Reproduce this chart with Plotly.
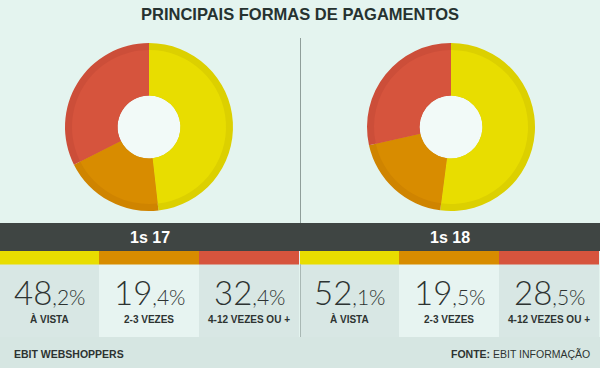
import plotly.graph_objects as go

# ---- data ----
title = "PRINCIPAIS FORMAS DE PAGAMENTOS"
categories = ["À VISTA", "2-3 VEZES", "4-12 VEZES OU +"]
periods = ["1s 17", "1s 18"]
values_1s17 = [48.2, 19.4, 32.4]
values_1s18 = [52.1, 19.5, 28.5]
source_left = "EBIT WEBSHOPPERS"
source_right_label = "FONTE:"
source_right = "EBIT INFORMAÇÃO"

# ---- styles ----
W, H = 600, 368
BG = "#e4f4ef"
colors = ["#e8dd00", "#d88c00", "#d6543d"]
colors_dark = ["#dcd000", "#cf8400", "#cc4e39"]
BAND = "#3f4543"
PANEL = "#d8e7e4"
PANEL_MID = "#e7f4f1"
FOOTER = "#d6e6e2"
TEXT = "#2d3331"
NARROW = "Liberation Sans, Arial, sans-serif"
THIN = "Lato, Roboto, sans-serif"

series = [values_1s17, values_1s18]
centers_x = [149, 451]
cy = 127
R_out, R_in2, R_hole = 84, 77, 31.5

fig = go.Figure()

def dom(cx, r):
    return dict(x=[(cx - r) / W, (cx + r) / W],
                y=[1 - (cy + r) / H, 1 - (cy - r) / H])

for vals, cx in zip(series, centers_x):
    fig.add_trace(go.Pie(values=vals, labels=categories, sort=False,
                         direction="clockwise", rotation=0,
                         hole=R_hole / R_out, domain=dom(cx, R_out),
                         marker=dict(colors=colors_dark, line=dict(width=0)),
                         textinfo="none", hoverinfo="skip", showlegend=False))
    fig.add_trace(go.Pie(values=vals, labels=categories, sort=False,
                         direction="clockwise", rotation=0,
                         hole=R_hole / R_in2, domain=dom(cx, R_in2),
                         marker=dict(colors=colors, line=dict(width=0)),
                         textinfo="none", hoverinfo="skip", showlegend=False))

shapes = []
for cx in centers_x:
    shapes.append(dict(type="circle", xref="x", yref="y", layer="below",
                       x0=cx - R_hole, x1=cx + R_hole, y0=cy - R_hole, y1=cy + R_hole,
                       fillcolor="#f2faf8", line=dict(width=0)))
shapes.append(dict(type="rect", xref="x", yref="y", layer="below",
                   x0=0, x1=W, y0=337, y1=H, fillcolor=FOOTER, line=dict(width=0)))
col_w = 100
annotations = []
for p, (period, vals) in enumerate(zip(periods, series)):
    x_start = p * 300
    for i, (cat, v) in enumerate(zip(categories, vals)):
        x0 = x_start + i * col_w + (0 if i == 0 else -1)
        x1 = x_start + (i + 1) * col_w - 1
        shapes.append(dict(type="rect", xref="x", yref="y", layer="below",
                           x0=x0, x1=x1, y0=264, y1=337,
                           fillcolor=PANEL_MID if i == 1 else PANEL, line=dict(width=0)))
        shapes.append(dict(type="rect", xref="x", yref="y", layer="below",
                           x0=x0, x1=x1, y0=250.5, y1=264.5,
                           fillcolor=colors[i], line=dict(width=0)))
        whole, dec = f"{v:.1f}".split(".")
        xc = (x0 + x1) / 2
        annotations.append(dict(x=xc, y=292, xref="x", yref="y", showarrow=False,
                                text=f"{whole}<span style='font-size:21px'>,{dec}%</span>",
                                font=dict(family=THIN, size=33, color=TEXT, weight=300),
                                xanchor="center", yanchor="middle"))
        annotations.append(dict(x=xc, y=319, xref="x", yref="y", showarrow=False,
                                text=f"<b>{cat}</b>",
                                font=dict(family=NARROW, size=10, color=TEXT),
                                xanchor="center", yanchor="middle"))
    annotations.append(dict(x=x_start + 150, y=237, xref="x", yref="y", showarrow=False,
                            text=f"<b>{period}</b>",
                            font=dict(family=NARROW, size=16, color="#ffffff"),
                            xanchor="center", yanchor="middle"))
shapes.append(dict(type="rect", xref="x", yref="y", layer="below",
                   x0=0, x1=W, y0=223, y1=251, fillcolor=BAND, line=dict(width=0)))
shapes.append(dict(type="line", xref="x", yref="y", layer="below",
                   x0=300.5, x1=300.5, y0=38, y1=223, line=dict(color="#8f9e9a", width=1)))
shapes.append(dict(type="line", xref="x", yref="y", layer="below",
                   x0=300.5, x1=300.5, y0=264, y1=337, line=dict(color="#a9b8b4", width=1)))

annotations.append(dict(x=W / 2, y=14, xref="x", yref="y", showarrow=False,
                        text=f"<b>{title}</b>",
                        font=dict(family=NARROW, size=16.5, color="#263230"),
                        xanchor="center", yanchor="middle"))
annotations.append(dict(x=12, y=354, xref="x", yref="y", showarrow=False,
                        text=f"<b>{source_left}</b>",
                        font=dict(family=NARROW, size=10.5, color=TEXT),
                        xanchor="left", yanchor="middle"))
annotations.append(dict(x=592, y=354, xref="x", yref="y", showarrow=False,
                        text=f"<b>{source_right_label}</b> {source_right}",
                        font=dict(family=NARROW, size=10.5, color=TEXT),
                        xanchor="right", yanchor="middle"))

fig.update_layout(
    width=W, height=H, margin=dict(l=0, r=0, t=0, b=0),
    paper_bgcolor=BG, plot_bgcolor=BG,
    xaxis=dict(range=[0, W], visible=False, fixedrange=True),
    yaxis=dict(range=[H, 0], visible=False, fixedrange=True),
    shapes=shapes, annotations=annotations, showlegend=False,
)

fig.write_html("out.html", config={"displayModeBar": False},
               post_script="document.body.style.margin='0px';document.body.style.overflow='hidden';")
